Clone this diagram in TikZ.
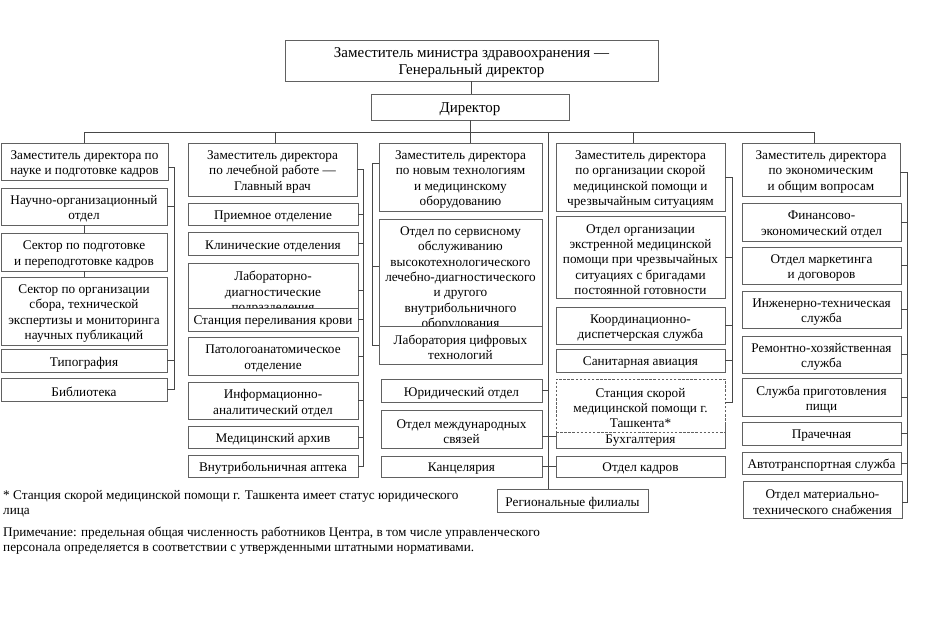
\documentclass[tikz,border=0pt]{standalone}
\usepackage{fontspec}
\setmainfont{Liberation Serif}
\begin{document}
\begin{tikzpicture}[x=1pt,y=-1pt,
  box/.style={draw=black!62, fill=white, line width=0.7pt},
  dbox/.style={box, dash pattern=on 2.5pt off 1.6pt},
  txt/.style={align=center, inner sep=0pt, font=\fontsize{13.25}{15.4}\selectfont},
  big/.style={align=center, inner sep=0pt, font=\fontsize{15}{17}\selectfont},
  conn/.style={draw=black!72, line width=0.7pt},
  note/.style={align=left, inner sep=0pt, font=\fontsize{13.25}{15}\selectfont}]
\useasboundingbox (0,0) rectangle (947,618);
\newcommand{\bx}[6]{\node[#1, minimum width=#2, minimum height=#3] (#4) at (#5) {};
  \node[txt] (#4t) at ([yshift=-2.5pt]#4.center) {#6};}
% top
\node[box, minimum width=373pt, minimum height=41pt] (top) at (471.5,60.5) {};
\node[big] (topt) at ([yshift=-2pt]top.center) {Заместитель министра здравоохранения —\\Генеральный директор};
\node[box, minimum width=198pt, minimum height=26pt] (dir) at (470,107) {};
\node[big] (dirt) at ([yshift=-2pt]dir.center) {Директор};
% column 1
\bx{box}{167pt}{37pt}{h1}{84.5,161.5}{Заместитель директора по\\науке и подготовке кадров}
\bx{box}{166pt}{37pt}{noo}{84,206.5}{Научно-организационный\\отдел}
\bx{box}{166pt}{38pt}{spk}{84,252}{Сектор по подготовке\\и переподготовке кадров}
\bx{box}{166pt}{68pt}{sorg}{84,311}{Сектор по организации\\сбора, технической\\экспертизы и мониторинга\\научных публикаций}
\bx{box}{166pt}{23pt}{typ}{84,360.5}{Типография}
\bx{box}{166pt}{23pt}{lib}{84,389.5}{Библиотека}
% column 2
\bx{box}{169pt}{53pt}{h2}{272.5,169.5}{Заместитель директора\\по лечебной работе —\\Главный врач}
\bx{box}{170pt}{22pt}{pri}{273,214}{Приемное отделение}
\bx{box}{170pt}{23pt}{kli}{273,243.5}{Клинические отделения}
\bx{box}{170pt}{55pt}{lab}{273,290.5}{Лабораторно-\\диагностические\\подразделения}
\bx{box}{170pt}{23pt}{spkr}{273,319.5}{Станция переливания крови}
\bx{box}{170pt}{38pt}{pat}{273,356}{Патологоанатомическое\\отделение}
\bx{box}{170pt}{37pt}{inf}{273,400.5}{Информационно-\\аналитический отдел}
\bx{box}{170pt}{22pt}{arh}{273,437}{Медицинский архив}
\bx{box}{170pt}{22pt}{apt}{273,466}{Внутрибольничная аптека}
% column 3
\bx{box}{163pt}{68pt}{h3}{460.5,177}{Заместитель директора\\по новым технологиям\\и медицинскому\\оборудованию}
\bx{box}{163pt}{114pt}{serv}{460.5,276}{Отдел по сервисному\\обслуживанию\\высокотехнологического\\лечебно-диагностического\\и другого\\внутрибольничного\\оборудования}
\bx{box}{163pt}{38pt}{labc}{460.5,345}{Лаборатория цифровых\\технологий}
\bx{box}{161pt}{23pt}{yur}{461.5,390.5}{Юридический отдел}
\bx{box}{161pt}{38pt}{intl}{461.5,429}{Отдел международных\\связей}
\bx{box}{161pt}{21pt}{kanc}{461.5,466.5}{Канцелярия}
\bx{box}{151pt}{23pt}{reg}{572.5,500.5}{Региональные филиалы}
% column 4
\bx{box}{169pt}{68pt}{h4}{640.5,177}{Заместитель директора\\по организации скорой\\медицинской помощи и\\чрезвычайным ситуациям}
\bx{box}{169pt}{82pt}{eks}{640.5,257}{Отдел организации\\экстренной медицинской\\помощи при чрезвычайных\\ситуациях с бригадами\\постоянной готовности}
\bx{box}{169pt}{37pt}{koord}{640.5,325.5}{Координационно-\\диспетчерская служба}
\bx{box}{169pt}{23pt}{san}{640.5,360.5}{Санитарная авиация}
\node[box, minimum width=169pt, minimum height=23pt] (buh) at (640.5,436.5) {};
\node[txt] (buht) at ([yshift=-4.5pt]buh.center) {Бухгалтерия};
\bx{dbox}{169pt}{53pt}{stan}{640.5,405.5}{Станция скорой\\медицинской помощи г.\\Ташкента*}
\bx{box}{169pt}{21pt}{kadr}{640.5,466.5}{Отдел кадров}
% column 5
\bx{box}{158pt}{53pt}{h5}{821,169.5}{Заместитель директора\\по экономическим\\и общим вопросам}
\bx{box}{159pt}{38pt}{fin}{821.5,222}{Финансово-\\экономический отдел}
\bx{box}{159pt}{37pt}{mark}{821.5,265.5}{Отдел маркетинга\\и договоров}
\bx{box}{159pt}{37pt}{ing}{821.5,309.5}{Инженерно-техническая\\служба}
\bx{box}{159pt}{37pt}{rem}{821.5,354.5}{Ремонтно-хозяйственная\\служба}
\bx{box}{159pt}{38pt}{pish}{821.5,397}{Служба приготовления\\пищи}
\bx{box}{159pt}{23pt}{pra}{821.5,433.5}{Прачечная}
\bx{box}{159pt}{22pt}{avto}{821.5,463}{Автотранспортная служба}
\bx{box}{159pt}{37pt}{mat}{822.5,499.5}{Отдел материально-\\технического снабжения}
% notes
\node[note, anchor=north west] (fn) at (3,490) {* Станция скорой медицинской помощи г. Ташкента имеет статус юридического\\лица};
\node[note, anchor=north west] (nt) at (3,527) {Примечание: предельная общая численность работников Центра, в том числе управленческого\\персонала определяется в соответствии с утвержденными штатными нормативами.};
% coordinates
\coordinate (bus) at (0,132);
\coordinate (s1) at (174,0);
\coordinate (s2) at (363,0);
\coordinate (s3) at (372,0);
\coordinate (s4) at (732,0);
\coordinate (s5) at (907,0);
\coordinate (vm) at (548,132);
% top connectors
\draw[conn] (top.south) -- (top.south |- dir.north);
\draw[conn] (dir.south) -- (dir.south |- h3.north);
\draw[conn] (h1.north |- bus) -- ([xshift=-7pt]h5.north |- bus);
\draw[conn] (h1.north |- bus) -- (h1.north);
\draw[conn] ([xshift=2.5pt]h2.north |- bus) -- ([xshift=2.5pt]h2.north);
\draw[conn] ([xshift=-7.5pt]h4.north |- bus) -- ([xshift=-7.5pt]h4.north);
\draw[conn] ([xshift=-7pt]h5.north |- bus) -- ([xshift=-7pt]h5.north);
\draw[conn] (vm) -- (vm |- reg.north);
% column 1
\draw[conn] ([yshift=-5.5pt]h1.east) -- ([yshift=-5.5pt]h1.east -| s1) |- (lib.east);
\draw[conn] (noo.east) -- (noo.east -| s1);
\draw[conn] (typ.east) -- (typ.east -| s1);
\draw[conn] (noo.south) -- (spk.north);
\draw[conn] (spk.south) -- (sorg.north);
% column 2
\draw[conn] (h2.east) -- (h2.east -| s2) |- (apt.east);
\foreach \n in {pri,kli,lab,spkr,pat,inf,arh} {\draw[conn] (\n.east) -- (\n.east -| s2);}
% column 3
\draw[conn] ([yshift=14pt]h3.west) -- ([yshift=14pt]h3.west -| s3) |- (labc.west);
\draw[conn] ([yshift=10pt]serv.west) -- ([yshift=10pt]serv.west -| s3);
% middle
\draw[conn] (yur.east) -- (yur.east -| vm);
\draw[conn] (intl.east |- buh.west) -- (buh.west);
\draw[conn] (kanc.east) -- (kadr.west);
% column 4
\draw[conn] (h4.east) -- (h4.east -| s4) |- ([yshift=3pt]stan.east);
\foreach \n in {eks,koord,san} {\draw[conn] (\n.east) -- (\n.east -| s4);}
% column 5
\draw[conn] ([yshift=-2.5pt]h5.east) -- ([yshift=-2.5pt]h5.east -| s5) |- ([yshift=-2.5pt]mat.east);
\foreach \n in {fin,mark,ing,rem,pish,pra,avto} {\draw[conn] (\n.east) -- (\n.east -| s5);}
\end{tikzpicture}
\end{document}
